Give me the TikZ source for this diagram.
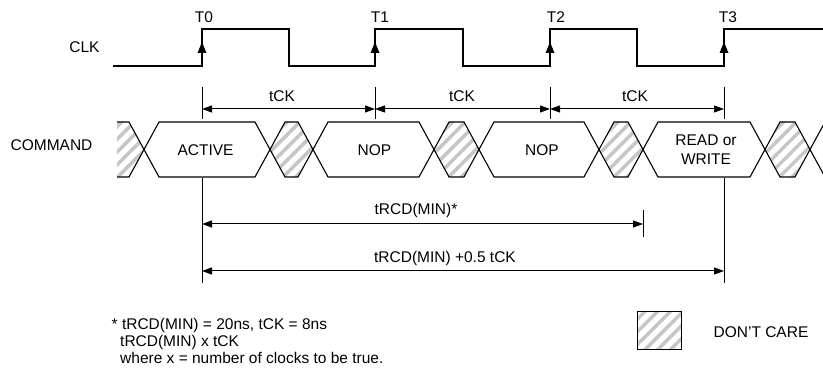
\documentclass[tikz,border=0pt]{standalone}
\usepackage{fontspec}
\setmainfont{Liberation Sans}
\usetikzlibrary{arrows.meta,patterns.meta}
\newcommand{\busseg}[3]{\path[#3] (#1,149.5) -- ({#1+15},122) -- ({#2-15},122) -- (#2,149.5) -- ({#2-15},177) -- ({#1+15},177) -- cycle;}
\begin{document}
\begin{tikzpicture}[x=1pt,y=-1pt,
  sig/.style={line width=1.1pt, line join=miter},
  tickline/.style={line width=0.75pt},
  dim/.style={line width=1pt, {Triangle[length=10pt,width=7pt]}-{Triangle[length=10pt,width=7pt]}},
  lbl/.style={font=\fontsize{15.5}{19}\selectfont, inner sep=0pt, text height=11pt, text depth=0pt},
  hatch/.style={pattern={Lines[angle=45,distance=9pt,line width=3.5pt]}, pattern color=gray!45},
]
\useasboundingbox (0,0) rectangle (823,371);
\clip (0,0) rectangle (823,371);

% ---------- labels on the left
\node[lbl] (clk) at (84.5,47) {CLK};
\node[lbl] (cmd) at (51.5,145) {COMMAND};

% ---------- clock
\draw[sig] (113,66) -- (202,66) -- (202,29) -- (289,29) -- (289,66) -- (375,66) -- (375,29)
  -- (463,29) -- (463,66) -- (550,66) -- (550,29) -- (637,29) -- (637,66) -- (724,66) -- (724,29) -- (826,29);
\foreach \x in {202,375,550,724}{
  \fill ({\x-4.5},53) -- (\x,42) -- ({\x+4.5},53) -- cycle;
}
\node[lbl] (t0) at (204,17) {T0};
\node[lbl] (t1) at (380,17) {T1};
\node[lbl] (t2) at (556,17) {T2};
\node[lbl] (t3) at (728,17) {T3};

% ---------- tCK dimensions
\foreach \x/\n in {202/a,375/b,550/c,724/d}{
  \coordinate (tk\n top) at (\x,87);
  \coordinate (tk\n bot) at (\x,119);
  \coordinate (tk\n) at (\x,109);
  \draw[tickline] (tk\n top) -- (tk\n bot);
}
\draw[dim] (tka) -- (tkb);
\draw[dim] (tkb) -- (tkc);
\draw[dim] (tkc) -- (tkd);
\node[lbl] (tck1) at (282,96) {tCK};
\node[lbl] (tck2) at (462,96) {tCK};
\node[lbl] (tck3) at (635,96) {tCK};

% ---------- command bus
\path[hatch] (117,122) -- (129,122) -- (144,149.5) -- (129,177) -- (117,177) -- cycle;
\draw[sig] (117,122) -- (129,122) -- (144,149.5) -- (129,177) -- (117,177);
\busseg{144}{270}{draw,sig}
\busseg{270}{313}{hatch,draw,sig}
\busseg{313}{434}{draw,sig}
\busseg{434}{479}{hatch,draw,sig}
\busseg{479}{599}{draw,sig}
\busseg{599}{643}{hatch,draw,sig}
\busseg{643}{765}{draw,sig}
\busseg{765}{810}{hatch,draw,sig}
\draw[sig] (840,122) -- (825,122) -- (810,149.5) -- (825,177) -- (840,177);

\node[lbl] (active) at (205.5,150) {ACTIVE};
\node[lbl] (nop1) at (374.5,150) {NOP};
\node[lbl] (nop2) at (542,150) {NOP};
\node[lbl] (rw1) at (706,140) {READ or};
\node[lbl] (rw2) at (706,159.5) {WRITE};

% ---------- tRCD dimensions
\coordinate (ra top) at (202,178);
\coordinate (ra bot) at (202,283);
\coordinate (rd top) at (724,178);
\coordinate (rd bot) at (724,283);
\coordinate (rm top) at (643,210);
\coordinate (rm bot) at (643,237);
\draw[tickline] (ra top) -- (ra bot);
\draw[tickline] (rd top) -- (rd bot);
\draw[tickline] (rm top) -- (rm bot);
\coordinate (r1a) at (202,224);
\coordinate (r1b) at (643,224);
\coordinate (r2a) at (202,271);
\coordinate (r2b) at (724,271);
\draw[dim] (r1a) -- (r1b);
\draw[dim] (r2a) -- (r2b);
\node[lbl] (trcd) at (416,209) {tRCD(MIN)*};
\node[lbl] (trcdh) at (445,257) {tRCD(MIN) +0.5 tCK};

% ---------- footnote
\node[lbl, anchor=base west] (note1) at (111.5,330) {* tRCD(MIN) = 20ns, tCK = 8ns};
\node[lbl, anchor=base west] (note2) at (120,347) {tRCD(MIN) x tCK};
\node[lbl, anchor=base west] (note3) at (120,363.5) {where x = number of clocks to be true.};

% ---------- legend
\draw[hatch, line width=1pt] (637,312) rectangle (681,350);
\node (dcbox) at (659,331) {};
\node[lbl] (dc) at (761,332) {DON’T CARE};
\end{tikzpicture}
\end{document}
